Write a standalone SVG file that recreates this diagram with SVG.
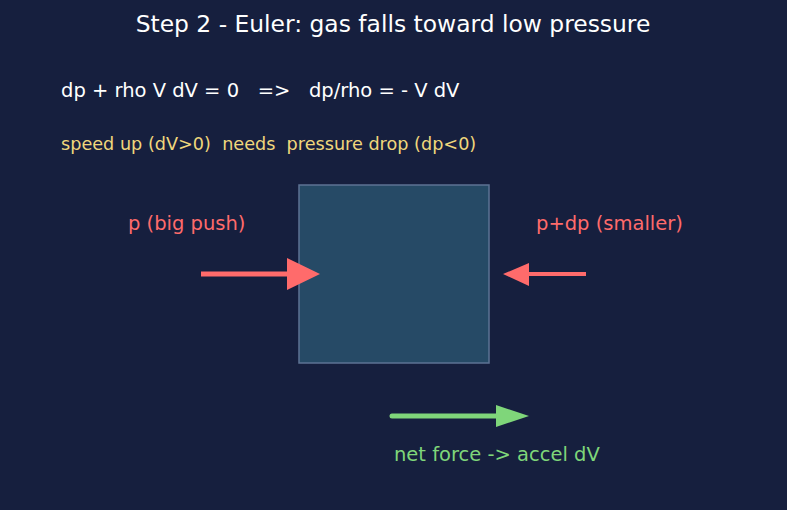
<svg xmlns="http://www.w3.org/2000/svg" width="787" height="510" viewBox="0 0 787 510">
<style>
text{font-family:"DejaVu Sans",sans-serif;white-space:pre}
.t{fill:#ffffff;font-size:23.4px}
.eq{fill:#ffffff;font-size:19.5px}
.y{fill:#f0d77c;font-size:17.65px}
.r{fill:#ff6b6b;font-size:19.5px}
.g{fill:#7fd67a;font-size:19.5px}
</style>
<rect width="787" height="510" fill="#161f3e"/>
<text class="t" x="393" y="32" text-anchor="middle">Step 2 - Euler: gas falls toward low pressure</text>
<text class="eq" x="61" y="97" xml:space="preserve">dp + rho V dV = 0   =>   dp/rho = - V dV</text>
<text class="y" x="61" y="150" xml:space="preserve">speed up (dV&gt;0)  needs  pressure drop (dp&lt;0)</text>
<g id="box"><rect x="299" y="185" width="190" height="178" fill="#264a66" stroke="#5d7394" stroke-width="1.5"/></g>
<g id="label-left"><text class="r" x="128" y="230">p (big push)</text></g>
<g id="label-right"><text class="r" x="536" y="230">p+dp (smaller)</text></g>
<g id="label-net"><text class="g" x="394" y="461">net force -&gt; accel dV</text></g>
<g id="connectors">
<line x1="201" y1="274" x2="290" y2="274" stroke="#ff6b6b" stroke-width="5"/>
<polygon points="287,258 320,274 287,290" fill="#ff6b6b"/>
<line x1="586" y1="274" x2="525" y2="274" stroke="#ff6b6b" stroke-width="4"/>
<polygon points="529,263 503,274 529,286" fill="#ff6b6b"/>
<line x1="392" y1="416" x2="498" y2="416" stroke="#7fd67a" stroke-width="5" stroke-linecap="round"/>
<polygon points="496,405 529,416 496,427" fill="#7fd67a"/>
</g>
</svg>
